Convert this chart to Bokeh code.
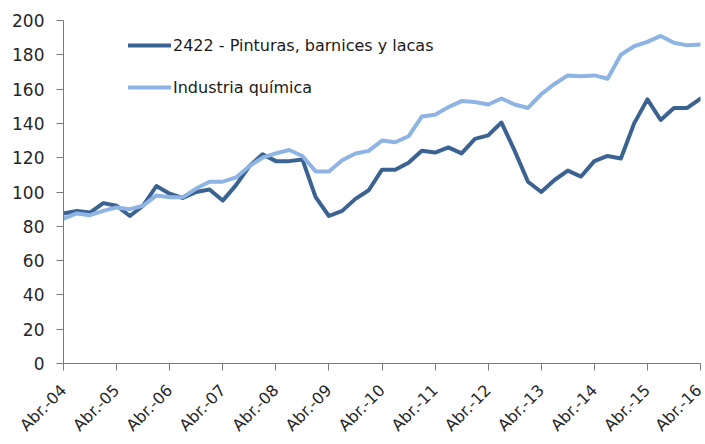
import math
from bokeh.plotting import figure
from bokeh.models import ColumnDataSource, Legend, LegendItem, FixedTicker
from bokeh.embed import file_html
from bokeh.resources import INLINE

# Quarterly index, Abr.-04 (0) to Abr.-16 (48)
quarters = list(range(49))
tick_positions = list(range(0, 49, 4))
tick_labels = ["Abr.-04", "Abr.-05", "Abr.-06", "Abr.-07", "Abr.-08", "Abr.-09", "Abr.-10",
               "Abr.-11", "Abr.-12", "Abr.-13", "Abr.-14", "Abr.-15", "Abr.-16"]

pinturas = [87.5, 89, 88, 93.5, 92, 86, 92, 103.5, 99, 96.5, 100, 101.5, 95,
            104, 115, 122, 118, 118, 119, 97, 86, 89, 96, 101, 113,
            113, 117, 124, 123, 126, 122.5, 131, 133, 140.5, 124, 106, 100,
            107, 112.5, 109, 118, 121, 119.5, 140, 154, 142, 149, 149, 154.5]
quimica = [84.5, 87.5, 86.5, 89, 91, 90, 92, 98, 97, 97, 102, 106, 106,
           108.5, 115, 120, 122.5, 124.5, 121, 112, 112, 118.5, 122.5, 124, 130,
           129, 132.5, 144, 145, 149.5, 153, 152.5, 151, 154.5, 151, 149, 157,
           163, 168, 167.5, 168, 166, 180, 185, 187.5, 191, 187, 185.5, 186]

series_names = ["2422 - Pinturas, barnices y lacas", "Industria química"]
colors = ["#3B6392", "#8DB4E2"]

FONT = "DejaVu Sans"

p = figure(width=705, height=444, output_backend="svg", toolbar_location=None,
           x_range=(0, 48), y_range=(0, 200),
           min_border_left=63, min_border_right=5, min_border_top=20, min_border_bottom=81)
p.outline_line_color = None
p.xgrid.visible = False
p.ygrid.visible = False

src = ColumnDataSource(dict(x=quarters, a=pinturas, b=quimica))
r1 = p.line("x", "a", source=src, line_color=colors[0], line_width=4, line_join="round", line_cap="round")
r2 = p.line("x", "b", source=src, line_color=colors[1], line_width=4, line_join="round", line_cap="round")

for ax in (p.xaxis[0], p.yaxis[0]):
    ax.axis_line_color = "#7a7a7a"
    ax.major_tick_line_color = "#7a7a7a"
    ax.minor_tick_line_color = None
    ax.major_tick_in = 0
    ax.major_tick_out = 7
    ax.major_label_text_font = FONT
    ax.major_label_text_color = "#262626"

p.yaxis.major_label_text_font_size = "17px"
p.xaxis.major_label_text_font_size = "16px"
p.yaxis.ticker = FixedTicker(ticks=list(range(0, 201, 20)))
p.yaxis.major_label_standoff = 12
p.xaxis.ticker = FixedTicker(ticks=tick_positions)
p.xaxis.major_label_overrides = {t: l for t, l in zip(tick_positions, tick_labels)}
p.xaxis.major_label_orientation = math.pi / 4
p.xaxis.major_label_standoff = 17

legend = Legend(items=[LegendItem(label=series_names[0], renderers=[r1]),
                       LegendItem(label=series_names[1], renderers=[r2])],
                location=(65, 266), orientation="vertical")
legend.background_fill_alpha = 0
legend.border_line_color = None
legend.padding = 0
legend.margin = 0
legend.spacing = 22
legend.glyph_width = 43
legend.glyph_height = 20
legend.label_height = 20
legend.label_standoff = 2
legend.label_text_font = FONT
legend.label_text_font_size = "16px"
legend.label_text_color = "#1a1a1a"
p.add_layout(legend)

open("out.html", "w").write(file_html(p, INLINE))
